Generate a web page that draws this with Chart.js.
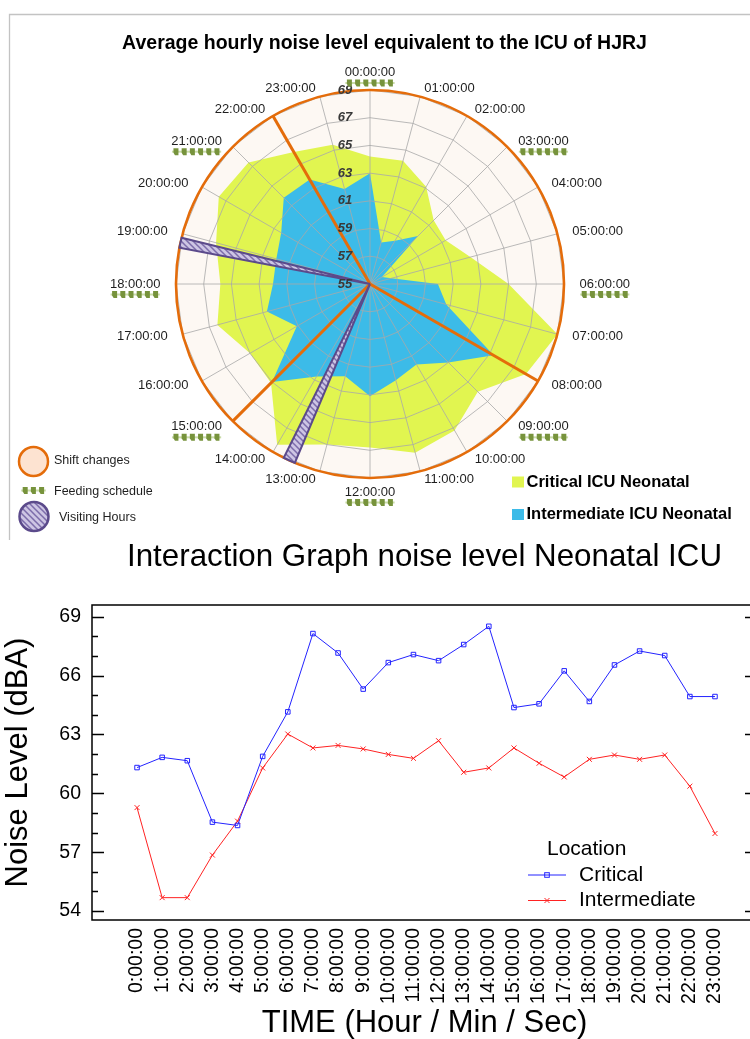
<!DOCTYPE html>
<html>
<head>
<meta charset="utf-8">
<title>Neonatal ICU noise levels</title>
<script src="https://cdn.jsdelivr.net/npm/chart.js@4.4.1/dist/chart.umd.min.js"></script>
<style>
  html, body { margin: 0; padding: 0; background: #ffffff; }
  body { width: 750px; height: 1039px; overflow: hidden; position: relative; }
  #radarBox { position: absolute; left: 0; top: 0; width: 750px; height: 540px; }
  #lineBox { position: absolute; left: 0; top: 540px; width: 770px; height: 499px; }
  canvas { display: block; }
</style>
</head>
<body>
<div id="radarBox"><canvas id="radarChart" width="750" height="540"></canvas></div>
<div id="lineBox"><canvas id="lineChart" width="770" height="499"></canvas></div>
<script>
// ---------- data ----------
const hourLabels = ['00:00:00', '01:00:00', '02:00:00', '03:00:00', '04:00:00', '05:00:00',
  '06:00:00', '07:00:00', '08:00:00', '09:00:00', '10:00:00', '11:00:00',
  '12:00:00', '13:00:00', '14:00:00', '15:00:00', '16:00:00', '17:00:00',
  '18:00:00', '19:00:00', '20:00:00', '21:00:00', '22:00:00', '23:00:00'];

// hourly Leq on the polar chart (dBA)
const criticalRadar = [64.2, 64.2, 63.1, 61.5, 61.3, 62.5, 65.0, 69.0, 68.0, 66.0, 67.2, 67.6,
  66.8, 67.0, 68.4, 65.1, 65.0, 66.4, 65.8, 66.5, 67.6, 67.4, 66.0, 65.4];
const intermediateRadar = [63.0, 58.1, 58.6, 59.9, 56.0, 56.6, 59.9, 60.7, 65.3, 63.0, 61.7, 62.2,
  63.1, 61.9, 62.7, 65.0, 61.1, 62.7, 62.0, 62.0, 62.4, 63.8, 63.7, 62.1];
const radarTickValues = [55, 57, 59, 61, 63, 65, 67, 69];

// ward routine, in hours of the day
const feedingHours = [0, 3, 6, 9, 12, 15, 18, 21];
const shiftChangeHours = [8, 15, 22];
const visitingWindows = [[13.52, 13.76], [18.72, 18.92]];

// interaction graph
const timeLabels = ['0:00:00', '1:00:00', '2:00:00', '3:00:00', '4:00:00', '5:00:00',
  '6:00:00', '7:00:00', '8:00:00', '9:00:00', '10:00:00', '11:00:00',
  '12:00:00', '13:00:00', '14:00:00', '15:00:00', '16:00:00', '17:00:00',
  '18:00:00', '19:00:00', '20:00:00', '21:00:00', '22:00:00', '23:00:00'];
const criticalLevels = [61.31, 61.83, 61.66, 58.53, 58.36, 61.88, 64.15, 68.14, 67.15, 65.31, 66.66, 67.07,
  66.76, 67.58, 68.51, 64.37, 64.56, 66.24, 64.68, 66.54, 67.25, 67.02, 64.93, 64.93];
const intermediateLevels = [59.27, 54.68, 54.68, 56.85, 58.58, 61.29, 63.02, 62.31, 62.44, 62.26, 61.98, 61.78,
  62.68, 61.07, 61.29, 62.31, 61.53, 60.83, 61.73, 61.95, 61.73, 61.95, 60.36, 57.95];
const levelTicks = [54, 57, 60, 63, 66, 69];

// ---------- styles ----------
const FONT = '"Liberation Sans", Arial, Helvetica, sans-serif';
const COLORS = {
  critical: '#e1f550',
  intermediate: '#3cbbe8',
  plotBg: '#fdf8f3',
  grid: '#a8a8a8',
  shift: '#e46c0a',
  shiftFill: '#fde3d1',
  visitLine: '#5b4a8b',
  feedDark: '#77933c',
  feedLight: '#c9dba8',
  lineCritical: '#2323ff',
  lineIntermediate: '#ff2222'
};

Chart.defaults.font.family = FONT;
Chart.defaults.color = '#000';

function hatchPattern(ctx) {
  const c = document.createElement('canvas');
  c.width = 6; c.height = 6;
  const g = c.getContext('2d');
  g.fillStyle = '#cdc5e4';
  g.fillRect(0, 0, 6, 6);
  g.strokeStyle = '#7c6caa';
  g.lineWidth = 1.5;
  g.beginPath();
  g.moveTo(-1, -1); g.lineTo(7, 7);
  g.moveTo(-1, 5); g.lineTo(1, 7);
  g.moveTo(5, -1); g.lineTo(7, 1);
  g.stroke();
  return ctx.createPattern(c, 'repeat');
}

function drawFeedingIcon(ctx, cx, cy, blocks) {
  const step = 8.2;
  const w = step * blocks;
  const x0 = cx - w / 2;
  ctx.fillStyle = COLORS.feedLight;
  ctx.fillRect(x0, cy - 1, w, 2);
  ctx.fillStyle = COLORS.feedDark;
  for (let k = 0; k < blocks; k++) {
    const x = x0 + k * step + 1.5;
    ctx.beginPath();
    ctx.moveTo(x, cy - 3.5);
    ctx.lineTo(x + 5, cy - 3.5);
    ctx.lineTo(x + 5, cy + 3.5);
    ctx.lineTo(x + 1.5, cy + 3.5);
    ctx.lineTo(x, cy + 1);
    ctx.closePath();
    ctx.fill();
  }
}

// ---------- polar chart decorations ----------
const radarDecor = {
  id: 'radarDecor',
  beforeDraw(chart) {
    const s = chart.scales.r;
    const ctx = chart.ctx;
    ctx.save();
    ctx.fillStyle = COLORS.plotBg;
    ctx.beginPath();
    ctx.arc(s.xCenter, s.yCenter, s.drawingArea, 0, Math.PI * 2);
    ctx.fill();
    ctx.restore();
  },
  afterDraw(chart) {
    const s = chart.scales.r;
    const ctx = chart.ctx;
    const R = s.drawingArea;
    const cx = s.xCenter, cy = s.yCenter;
    ctx.save();

    // outer ring
    ctx.strokeStyle = COLORS.shift;
    ctx.lineWidth = 2.6;
    ctx.beginPath();
    ctx.arc(cx, cy, R, 0, Math.PI * 2);
    ctx.stroke();

    // shift changes
    ctx.lineWidth = 3;
    ctx.lineCap = 'butt';
    shiftChangeHours.forEach(h => {
      const p = s.getPointPosition(h, R);
      ctx.beginPath();
      ctx.moveTo(cx, cy);
      ctx.lineTo(p.x, p.y);
      ctx.stroke();
    });

    // visiting hours
    const pat = hatchPattern(ctx);
    visitingWindows.forEach(([a, b]) => {
      const p1 = s.getPointPosition(a, R);
      const p2 = s.getPointPosition(b, R);
      ctx.beginPath();
      ctx.moveTo(cx, cy);
      ctx.lineTo(p1.x, p1.y);
      ctx.arc(cx, cy, R, p1.angle, p2.angle);
      ctx.closePath();
      ctx.fillStyle = pat;
      ctx.fill();
      ctx.strokeStyle = COLORS.visitLine;
      ctx.lineWidth = 2;
      ctx.lineJoin = 'miter';
      ctx.stroke();
    });

    // radial tick labels
    ctx.font = 'italic bold 13px ' + FONT;
    ctx.fillStyle = '#383838';
    ctx.textAlign = 'center';
    ctx.textBaseline = 'middle';
    radarTickValues.forEach(v => {
      const y = cy - s.getDistanceFromCenterForValue(v);
      ctx.fillText(String(v), cx - 25, y);
    });

    // hour labels and feeding marks
    ctx.font = '13px ' + FONT;
    ctx.fillStyle = '#1e1e1e';
    const RX = 209.5, RY = 202;
    hourLabels.forEach((txt, i) => {
      const ang = s.getIndexAngle(i);
      const sn = Math.sin(ang), cs = Math.cos(ang);
      const w = ctx.measureText(txt).width;
      let x, y, mid;
      if (Math.abs(sn) < 1e-6) {
        ctx.textAlign = 'center';
        x = cx;
        y = cs > 0 ? cy - 211.5 : cy + 208;
        mid = x;
      } else if (sn > 0) {
        ctx.textAlign = 'left';
        x = cx + RX * sn;
        y = cy - RY * cs;
        mid = x + w / 2;
      } else {
        ctx.textAlign = 'right';
        x = cx + RX * sn;
        y = cy - RY * cs;
        mid = x - w / 2;
      }
      ctx.fillStyle = '#1e1e1e';
      ctx.fillText(txt, x, y);
      if (feedingHours.includes(i)) {
        drawFeedingIcon(ctx, mid, y + 10.5, 6);
      }
    });

    // title
    ctx.textAlign = 'center';
    ctx.textBaseline = 'alphabetic';
    ctx.fillStyle = '#000';
    ctx.font = 'bold 19.5px ' + FONT;
    ctx.fillText('Average hourly noise level equivalent to the ICU of HJRJ', 384.5, 49);

    // routine legend (left)
    ctx.textBaseline = 'middle';
    ctx.textAlign = 'left';
    ctx.font = '12.5px ' + FONT;
    ctx.beginPath();
    ctx.arc(33.5, 461.5, 14.5, 0, Math.PI * 2);
    ctx.fillStyle = COLORS.shiftFill;
    ctx.fill();
    ctx.strokeStyle = COLORS.shift;
    ctx.lineWidth = 2.5;
    ctx.stroke();
    ctx.fillStyle = '#1e1e1e';
    ctx.fillText('Shift changes', 54, 460.5);

    drawFeedingIcon(ctx, 33.5, 490.5, 3);
    ctx.fillStyle = '#1e1e1e';
    ctx.fillText('Feeding schedule', 54, 491.5);

    ctx.beginPath();
    ctx.arc(34, 516.5, 14.5, 0, Math.PI * 2);
    ctx.fillStyle = pat;
    ctx.fill();
    ctx.strokeStyle = COLORS.visitLine;
    ctx.lineWidth = 2.5;
    ctx.stroke();
    ctx.fillStyle = '#1e1e1e';
    ctx.fillText('Visiting Hours', 59, 518);

    // series legend (right)
    ctx.font = 'bold 16.5px ' + FONT;
    ctx.textBaseline = 'alphabetic';
    chart.data.datasets.forEach((ds, k) => {
      const y = 486.5 + k * 32.5;
      ctx.fillStyle = ds.backgroundColor;
      ctx.fillRect(512, y - 10, 12, 11);
      ctx.fillStyle = '#000';
      ctx.fillText(ds.label, 526.5, y);
    });

    // frame
    ctx.strokeStyle = '#c3c3c3';
    ctx.lineWidth = 1.3;
    ctx.beginPath();
    ctx.moveTo(9.5, 540);
    ctx.lineTo(9.5, 14.5);
    ctx.lineTo(750, 14.5);
    ctx.stroke();

    ctx.restore();
  }
};

new Chart(document.getElementById('radarChart'), {
  type: 'radar',
  data: {
    labels: hourLabels,
    datasets: [
      {
        label: 'Critical ICU Neonatal',
        data: criticalRadar,
        backgroundColor: COLORS.critical,
        borderColor: 'rgba(0,0,0,0)',
        borderWidth: 0,
        pointRadius: 0,
        fill: 'start',
        order: 2
      },
      {
        label: 'Intermediate ICU Neonatal',
        data: intermediateRadar,
        backgroundColor: COLORS.intermediate,
        borderColor: 'rgba(0,0,0,0)',
        borderWidth: 0,
        pointRadius: 0,
        fill: 'start',
        order: 1
      }
    ]
  },
  options: {
    responsive: false,
    animation: false,
    devicePixelRatio: 1,
    layout: { padding: { left: 176, right: 186, top: 90, bottom: 62 } },
    elements: { line: { tension: 0 } },
    plugins: { legend: { display: false }, tooltip: { enabled: false } },
    scales: {
      r: {
        min: 55,
        max: 69,
        startAngle: 0,
        z: 1,
        ticks: { display: false, stepSize: 2, z: 1 },
        pointLabels: { display: false },
        grid: { color: COLORS.grid, lineWidth: 0.8, circular: false, z: 1 },
        angleLines: { color: COLORS.grid, lineWidth: 0.8 },
        border: { z: 1 }
      }
    }
  },
  plugins: [radarDecor]
});

// ---------- interaction graph ----------
function drawSquareMark(ctx, x, y, color) {
  ctx.strokeStyle = color;
  ctx.lineWidth = 1;
  ctx.strokeRect(x - 2.3, y - 2.3, 4.6, 4.6);
}
function drawCrossMark(ctx, x, y, color) {
  ctx.strokeStyle = color;
  ctx.lineWidth = 1;
  ctx.beginPath();
  ctx.moveTo(x - 2.5, y - 2.5); ctx.lineTo(x + 2.5, y + 2.5);
  ctx.moveTo(x - 2.5, y + 2.5); ctx.lineTo(x + 2.5, y - 2.5);
  ctx.stroke();
}

const lineDecor = {
  id: 'lineDecor',
  afterDraw(chart) {
    const { ctx, chartArea: a } = chart;
    const y = chart.scales.y;
    ctx.save();
    ctx.strokeStyle = '#000';
    ctx.lineWidth = 1.5;
    ctx.strokeRect(a.left, a.top, a.right - a.left, a.bottom - a.top);
    ctx.beginPath();
    for (let v = Math.ceil(y.min); v <= Math.floor(y.max); v++) {
      const py = Math.round(y.getPixelForValue(v)) + 0.5;
      const len = levelTicks.includes(v) ? 12 : 6;
      ctx.moveTo(a.left, py); ctx.lineTo(a.left + len, py);
      ctx.moveTo(a.right - len, py); ctx.lineTo(a.right, py);
    }
    ctx.stroke();

    // legend
    const ds = chart.data.datasets;
    ctx.fillStyle = '#000';
    ctx.font = '21px ' + FONT;
    ctx.textAlign = 'left';
    ctx.textBaseline = 'middle';
    ctx.fillText('Location', 547, 309);
    ds.forEach((d, k) => {
      const yy = 335 + k * 25.5;
      ctx.strokeStyle = d.borderColor;
      ctx.lineWidth = 1;
      ctx.beginPath();
      ctx.moveTo(528, yy); ctx.lineTo(566, yy);
      ctx.stroke();
      if (d.pointStyle === 'rect') drawSquareMark(ctx, 547, yy, d.borderColor);
      else drawCrossMark(ctx, 547, yy, d.borderColor);
      ctx.fillStyle = '#000';
      ctx.fillText(d.label, 579, yy);
    });
    ctx.restore();
  }
};

new Chart(document.getElementById('lineChart'), {
  type: 'line',
  data: {
    datasets: [
      {
        label: 'Critical',
        data: criticalLevels.map((v, i) => ({ x: i, y: v })),
        borderColor: COLORS.lineCritical,
        borderWidth: 1,
        pointStyle: 'rect',
        pointRadius: 3.2,
        pointBorderWidth: 1,
        pointBackgroundColor: 'rgba(255,255,255,0)',
        pointBorderColor: COLORS.lineCritical,
        tension: 0
      },
      {
        label: 'Intermediate',
        data: intermediateLevels.map((v, i) => ({ x: i, y: v })),
        borderColor: COLORS.lineIntermediate,
        borderWidth: 1,
        pointStyle: 'crossRot',
        pointRadius: 3.5,
        pointBorderWidth: 1,
        pointBorderColor: COLORS.lineIntermediate,
        tension: 0
      }
    ]
  },
  options: {
    responsive: false,
    animation: false,
    devicePixelRatio: 1,
    layout: { padding: { left: 0, right: 13, top: 0, bottom: 0 } },
    plugins: {
      legend: { display: false },
      tooltip: { enabled: false },
      title: {
        display: true,
        text: 'Interaction Graph noise level Neonatal ICU',
        fullSize: false,
        color: '#000',
        font: { size: 31.3, weight: 'normal', lineHeight: 1 },
        padding: { top: 1.5, bottom: 32.2 }
      }
    },
    scales: {
      x: {
        type: 'linear',
        min: -1.792,
        max: 24.672,
        afterFit(scale) { scale.height = 119; },
        afterBuildTicks(scale) { scale.ticks = timeLabels.map((_, i) => ({ value: i })); },
        ticks: {
          callback: (v) => timeLabels[v],
          autoSkip: false,
          minRotation: 90,
          maxRotation: 90,
          padding: 8,
          color: '#000',
          font: { size: 19.5 }
        },
        grid: { display: false, drawTicks: false },
        border: { display: false },
        title: {
          display: true,
          text: 'TIME (Hour / Min / Sec)',
          color: '#000',
          font: { size: 31, lineHeight: 1 },
          padding: 0
        }
      },
      y: {
        min: 53.541,
        max: 69.596,
        afterFit(scale) { scale.width = 92; },
        afterBuildTicks(scale) { scale.ticks = levelTicks.map(v => ({ value: v })); },
        ticks: { padding: 11, color: '#000', font: { size: 19.5 } },
        grid: { display: false, drawTicks: false },
        border: { display: false },
        title: {
          display: true,
          text: 'Noise Level (dBA)',
          color: '#000',
          font: { size: 31, lineHeight: 1.2 },
          padding: 0
        }
      }
    }
  },
  plugins: [lineDecor]
});
</script>
</body>
</html>
